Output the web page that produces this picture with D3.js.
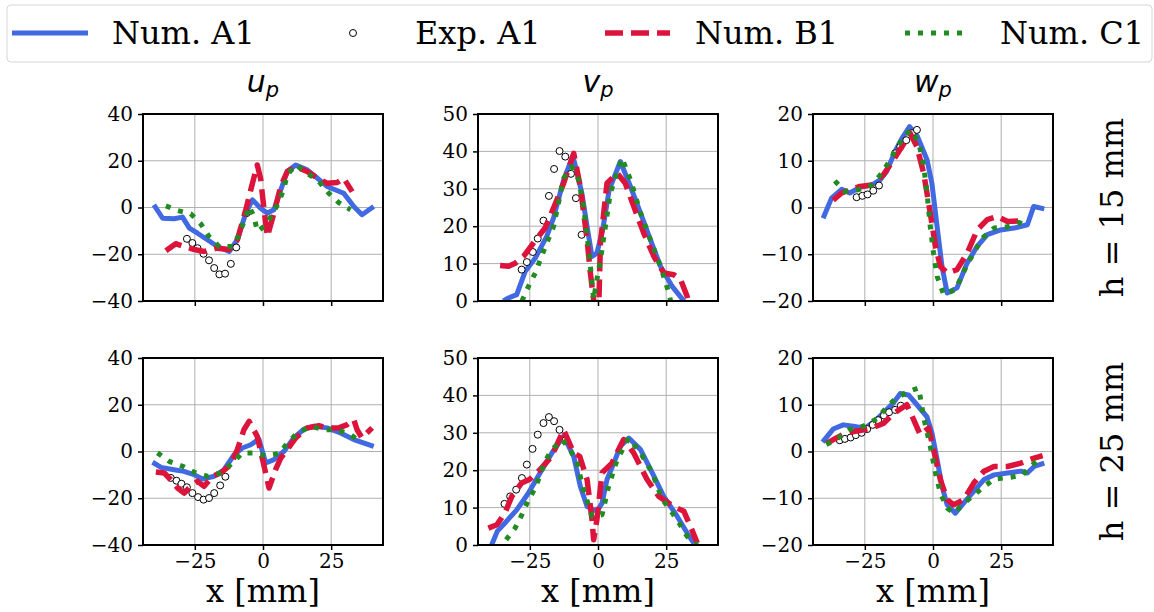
<!DOCTYPE html>
<meta charset="utf-8">
<style>
body { margin: 0; background: #fff; }
svg text { font-family: "DejaVu Serif", serif; fill: #000; }
.grid line { stroke: #b0b0b0; stroke-width: 1; }
.axis path, .axis line { stroke: #000; }
.axis path { display: none; }
.axis line { stroke-width: 1.5; }
.frame { fill: none; stroke: #000; stroke-width: 2; }
.title { font-family: "DejaVu Sans", sans-serif; font-style: italic; }
</style>
<body>
<div id="chart"></div>
<script src="https://d3js.org/d3.v7.min.js"></script>
<script>

// ---------- data ----------
var seriesNames = ["Num. A1", "Exp. A1", "Num. B1", "Num. C1"];
var columnTitles = ["u", "v", "w"];
var rowLabels = ["h = 15 mm", "h = 25 mm"];
var xTicks = [-25, 0, 25];
var yDomains = [[-40, 40], [0, 50], [-20, 20]];
var yTicks = [[-40, -20, 0, 20, 40], [0, 10, 20, 30, 40, 50], [-20, -10, 0, 10, 20]];

// h = 15 mm, u_p
var u15A1 = [[-40,1.1],[-36.8,-4.6],[-32.6,-4.8],[-29.5,-4.1],[-27,-8.8],[-24,-11],[-20.4,-13.8],[-16.7,-16.7],[-12.4,-18.8],[-9.4,-13.8],[-6.3,-2.4],[-3.9,3.3],[-0.9,-0.3],[1.6,-2.4],[4,-1],[6.5,7.5],[8.9,15.4],[12,18.2],[16.2,16.1],[20,12.5],[23.5,9],[29.6,6.1],[33.3,0.4],[36.3,-3.1],[40.6,0.4]];
var u15Exp = [[-27.9,-13.4],[-25.9,-15.2],[-24,-17.4],[-21.8,-19.8],[-19.8,-22.6],[-17.9,-25.9],[-16,-28.6],[-13.9,-28.3],[-11.8,-24.1],[-9.8,-17.1],[-6,-2.4]];
var u15B1 = [[-35.6,-18.5],[-32,-15.5],[-28.9,-16.7],[-25.2,-18],[-21.6,-18.8],[-16.7,-17.4],[-12.4,-18],[-9.4,-13.8],[-6.3,-1],[-4.5,7.5],[-2.1,18.2],[-0.9,12.5],[0.4,-1],[1.6,-12.4],[4,-2.4],[6.5,9],[8.9,15.4],[12,17.5],[16.2,15.4],[20,12.5],[23.5,10.4],[27.2,10.7],[29.6,12.5],[32.7,6.8]];
var u15C1 = [[-35.6,0.7],[-31.3,-1.3],[-26.5,-2.7],[-22.8,-7],[-19.8,-12.4],[-16.1,-16.7],[-11.2,-16.7],[-8.8,-11.7],[-7,-6],[-5.1,0.4],[-3.3,-3.8],[-2.1,-10.2],[0.4,-8.1],[3.4,-3.1],[5.9,2.6],[7.7,8.3],[8.9,14],[12,18.2],[16.2,14.7],[20.5,11.1],[24.1,6.1],[27.8,2.1],[32.1,-1]];

// h = 15 mm, v_p
var v15A1 = [[-34.7,0],[-32.8,0.8],[-29.8,1.7],[-26.7,7.9],[-23,11.5],[-18.8,17.3],[-16.3,22.2],[-12.6,32.4],[-9.2,38.8],[-5.9,28.8],[-4,19.9],[-2.2,11.9],[-0.4,12.8],[1.7,19],[4.1,29.7],[8.2,37.3],[11.9,30.6],[15.6,23.5],[19.2,16.4],[22.9,9.3],[27.2,3.9],[31.5,0]];
var v15Exp = [[-28,8.4],[-26.1,10.4],[-23.9,13.1],[-22.1,16.7],[-20,21.5],[-18,28.1],[-16.1,35.3],[-14.1,40.1],[-12,38.6],[-9.9,34],[-8.1,27.5],[-6,17.7]];
var v15B1 = [[-35.9,9.5],[-32.8,9.3],[-30.4,10.1],[-27.3,11.9],[-23.7,15.5],[-19.4,19.5],[-15.1,27],[-12.6,31.5],[-8.9,39.5],[-6.5,30.6],[-4,16.4],[-2.8,7.5],[-1.2,-2],[0.3,-1],[0.9,15.5],[3.3,31.5],[7,34.2],[10,31.5],[13.1,25.3],[16.8,18.1],[20.5,11.9],[24.1,7.5],[27.8,7],[30.3,5.7],[32.7,1.2],[33.5,-1]];
var v15C1 = [[-27.9,0],[-25.5,3.9],[-23,7.5],[-21.2,11],[-18.8,15.5],[-16.3,19.9],[-12.6,32.8],[-9.6,35.9],[-7.1,32.4],[-5.3,25.3],[-3.4,13.7],[-2.2,4.8],[-1.6,0.4],[-0.4,5.7],[0.9,11],[2.7,19.9],[4.5,28.8],[8.8,38.2],[11.9,32.4],[15.6,23.5],[19.2,16.4],[22.9,9.3],[26,2.1],[26.6,0]];

// h = 15 mm, w_p
var w15A1 = [[-40.3,-2.3],[-37.2,2],[-33.5,3.9],[-30.5,3.1],[-26.8,4.3],[-22.5,4.8],[-19.4,5.9],[-17,7.7],[-13.9,12],[-11.4,14.8],[-8.6,17.3],[-5.7,15.2],[-2.2,10.2],[-0.4,5.2],[1.5,-4.1],[3.3,-12.6],[5.2,-18.3],[8.8,-17.2],[12.5,-11.9],[16.2,-8.3],[19.9,-5.8],[24.8,-4.8],[29.7,-4.4],[34.6,-3.7],[36.9,0.2],[40.8,-0.3]];
var w15Exp = [[-28,2.2],[-25.9,2.5],[-24,2.8],[-21.9,3.6],[-19.8,4.7],[-13.9,11.6],[-12,13],[-9.8,14.4],[-7.7,15.9],[-5.9,16.6]];
var w15B1 = [[-36.6,1.6],[-33.5,3.1],[-29.9,3.9],[-26.8,4.5],[-22.5,4.8],[-18.2,7],[-14.5,10.2],[-11.4,13],[-8.4,15.9],[-5.9,13],[-3.4,7.3],[-1,-1.2],[0.9,-8.3],[2.7,-12.6],[5.2,-14],[8.8,-13.3],[12.5,-9.8],[16.2,-4.8],[19.9,-2.6],[23.6,-1.9],[27.3,-3],[33.4,-2.8]];
var w15C1 = [[-36,5.7],[-32.3,3.4],[-27.4,3.8],[-22.5,4.8],[-18.8,7.3],[-15.7,10.2],[-12.7,13.4],[-8.4,16.6],[-5.3,14.1],[-3.4,8.8],[-2.2,3.1],[-1,-4.1],[0.2,-9.8],[1.5,-14.7],[3.9,-18.6],[8.2,-17.6],[12.5,-12.2],[18.1,-6.5],[22.4,-4.4],[27.3,-4.1],[31.6,-3.2],[35.3,-4.1]];

// h = 25 mm, u_p
var u25A1 = [[-40.5,-4.6],[-37.4,-6.8],[-32.6,-7.8],[-29,-8.5],[-25.3,-9.9],[-22.2,-11.8],[-17.9,-10.6],[-14.3,-7.8],[-10.6,-1.4],[-7.6,1.5],[-4.5,2.9],[-1.5,5.3],[1,-4.9],[4,-3.5],[7.7,0.1],[11.3,5.8],[15,9.6],[18.7,10.8],[23.5,10.1],[28.4,7.9],[33.3,5.1],[40.6,2.2]];
var u25Exp = [[-33.8,-11.3],[-31.7,-12.5],[-29.9,-13.8],[-27.9,-15.3],[-25.9,-17.8],[-23.8,-19.5],[-21.8,-20.6],[-19.8,-19.9],[-17.9,-17.8],[-15.7,-14.5],[-13.8,-10.8]];
var u25B1 = [[-39.3,-8.8],[-36.2,-9.2],[-33.8,-12.1],[-31.3,-15.6],[-28.9,-17.8],[-26.5,-14.9],[-24,-12.8],[-21.6,-14.9],[-18.5,-10.6],[-15.5,-9.2],[-11.8,-5.6],[-9.4,0.8],[-7,9.3],[-5.1,12.9],[-2.1,6.5],[0.4,-6.3],[2.2,-15.6],[4.6,-7.8],[6.5,-2.8],[8.9,0.8],[12,5.8],[16.2,10.1],[20.5,11],[23.5,10.1],[27.8,10.1],[30.9,11.5],[33.3,13.6],[34.5,9.3],[36.3,5.8],[40,10.1]];
var u25C1 = [[-38.7,-0.6],[-34.4,-4.2],[-29.5,-6.3],[-25.2,-8.9],[-20.4,-10.6],[-15.5,-9.2],[-11.2,-4.9],[-7.6,-0.6],[-3.5,-0.6],[1,-1.8],[5.9,-0.9],[8.9,3.6],[12.6,7.9],[17.6,10.8],[22.4,9.3],[27.2,9.3],[32.1,7.2],[36.3,3.6]];

// h = 25 mm, v_p
var v25A1 = [[-39,0],[-36.9,3.7],[-34.1,5.9],[-29.8,9.4],[-25.5,13.9],[-21.2,19.3],[-16.9,24.6],[-12.6,29.1],[-8.9,23.7],[-6.5,15.7],[-4,10.3],[-0.4,9],[1.5,11.2],[3.3,17.5],[5.8,21.9],[8.2,26.4],[11.3,28.6],[15.6,25.5],[19.9,19.3],[24.1,13],[29,7.7],[32.7,3.2],[35.2,0.4]];
var v25Exp = [[-34.3,11],[-32.2,13],[-30,14.8],[-27.9,17.9],[-26.1,21.5],[-24,25.7],[-22.1,29.5],[-20,32.6],[-18,34.2],[-16.1,33.1],[-14.1,30.8],[-11.9,28]];
var v25B1 = [[-40.2,4.5],[-37.1,5.4],[-34.1,8.6],[-31.6,13],[-28,16.6],[-25,17.6],[-21.3,20.1],[-17,23.7],[-12.6,30.8],[-8.9,24.6],[-6.7,23.7],[-4,17.5],[-2.2,6.8],[-1.6,1.4],[-0.4,6.8],[1.5,19.3],[5.1,21.9],[9.4,28.2],[13.1,24.6],[18,17.5],[22.3,13],[27.8,10.3],[31.5,9],[33.9,5],[36.4,0.5]];
var v25C1 = [[-33.7,1.4],[-30.4,4.5],[-27.9,8.1],[-25.5,12.1],[-23,15.2],[-19.4,22.4],[-16.9,25.5],[-13.2,28.2],[-10.2,25.5],[-7.7,21.9],[-5.3,14.8],[-2.2,7.7],[1.5,8.1],[3.9,15.7],[7,22.8],[11.3,28.6],[15.6,24.6],[19.9,19.3],[23.5,12.3],[27.2,8.6],[29.7,5.9],[32.7,2.3],[36.4,0]];

// h = 25 mm, w_p
var w25A1 = [[-40.5,2],[-36.6,4.8],[-32.9,5.7],[-29.2,5.4],[-24.9,5],[-21.3,6.5],[-17.6,8.6],[-14.5,10.4],[-12,12.4],[-9,12.1],[-5.9,10],[-2.2,7.4],[-0.4,4],[1.5,-1.7],[3.3,-7.4],[5.2,-11.4],[8.2,-13.2],[11.3,-11],[15,-8.5],[18.7,-6],[22.4,-5],[27.3,-4.6],[32.2,-4.2],[34.6,-4.6],[37.1,-3.2],[40.8,-2.5]];
var w25Exp = [[-34.2,2.4],[-32.3,2.7],[-30.2,3],[-28.3,3.5],[-26.2,4],[-24.1,4.8],[-22.1,5.7],[-20.1,6.7],[-18,7.7],[-16.1,8.4],[-13.9,8.9],[-11.8,9.8]];
var w25B1 = [[-39.1,1.7],[-35.4,2.9],[-31.7,4],[-26.8,4.5],[-22.5,5],[-18.2,6],[-14.5,8.1],[-9.6,10],[-7.1,6.8],[-4.7,3.6],[-1.6,5],[0.2,0.4],[2.7,-6],[5.2,-10.3],[7.6,-11.4],[11.3,-10.3],[15,-6.7],[18.7,-4.2],[22.4,-3.2],[27.3,-3.2],[32.2,-2.5],[37.1,-1.4],[40.2,-0.9]];
var w25C1 = [[-39.1,1.5],[-34.8,2.9],[-30.5,4.7],[-25.6,5.4],[-20.6,7],[-17.2,9.3],[-13.9,11.2],[-9.6,12.7],[-5.3,13.6],[-4.7,11.8],[-3.4,7.2],[-1,1.1],[0.9,-4.6],[2.7,-8.9],[5.2,-12.1],[7.6,-13.2],[10.7,-11.4],[14.4,-9.6],[18.7,-7.5],[22.4,-5.9],[28.5,-5.5],[32.8,-5],[37.1,-2.5],[40.2,-1.2]];

var panels = [
  [ {A1: u15A1, Exp: u15Exp, B1: u15B1, C1: u15C1},
    {A1: v15A1, Exp: v15Exp, B1: v15B1, C1: v15C1},
    {A1: w15A1, Exp: w15Exp, B1: w15B1, C1: w15C1} ],
  [ {A1: u25A1, Exp: u25Exp, B1: u25B1, C1: u25C1},
    {A1: v25A1, Exp: v25Exp, B1: v25B1, C1: v25C1},
    {A1: w25A1, Exp: w25Exp, B1: w25B1, C1: w25C1} ]
];

// ---------- layout ----------
var W = 1154, H = 612;
var colLeft = [143, 478, 813],
    rowTop  = [114, 358],
    pw = 240, ph = 187;

var styles = {
  A1: {stroke: "#4169e1", width: 5, dash: null},
  B1: {stroke: "#dc143c", width: 5.5, dash: "18,8"},
  C1: {stroke: "#228b22", width: 5, dash: "5,8"}
};

var svg = d3.select("#chart").append("svg")
    .attr("width", W)
    .attr("height", H);

var x = d3.scaleLinear().domain([-44, 44]).range([0, pw]);

panels.forEach(function(row, r){
  row.forEach(function(p, c){
    var y = d3.scaleLinear().domain(yDomains[c]).range([ph, 0]);
    var g = svg.append("g")
        .attr("transform", "translate(" + colLeft[c] + "," + rowTop[r] + ")");

    var clipId = "clip" + r + c;
    g.append("clipPath").attr("id", clipId)
      .append("rect").attr("width", pw).attr("height", ph);

    // grid
    var grid = g.append("g").attr("class", "grid");
    grid.selectAll(".gx").data(xTicks).enter().append("line")
        .attr("x1", d => x(d)).attr("x2", d => x(d))
        .attr("y1", 0).attr("y2", ph);
    grid.selectAll(".gy").data(yTicks[c]).enter().append("line")
        .attr("x1", 0).attr("x2", pw)
        .attr("y1", d => y(d)).attr("y2", d => y(d));

    // lines, drawn in the order A1, Exp, B1, C1
    var line = d3.line().x(d => x(d[0])).y(d => y(d[1]));
    var lines = g.append("g").attr("clip-path", "url(#" + clipId + ")");
    function drawLine(k){
      lines.append("path")
          .datum(p[k])
          .attr("d", line)
          .attr("fill", "none")
          .attr("stroke", styles[k].stroke)
          .attr("stroke-width", styles[k].width)
          .attr("stroke-dasharray", styles[k].dash)
          .attr("stroke-linejoin", "round");
    }
    drawLine("A1");
    lines.append("g").selectAll("circle").data(p.Exp).enter().append("circle")
        .attr("cx", d => x(d[0])).attr("cy", d => y(d[1]))
        .attr("r", 3.5)
        .attr("fill", "#fff")
        .attr("stroke", "#000")
        .attr("stroke-width", 1);
    drawLine("B1");
    drawLine("C1");

    // axes
    var yAxis = g.append("g").attr("class", "axis")
        .call(d3.axisLeft(y).tickValues(yTicks[c]).tickSize(5).tickPadding(5));
    yAxis.selectAll("text").attr("font-size", 20);

    var xAxis = g.append("g").attr("class", "axis")
        .attr("transform", "translate(0," + ph + ")")
        .call(d3.axisBottom(x).tickValues(xTicks).tickSize(5).tickPadding(4));
    xAxis.selectAll("text").attr("font-size", 20);
    if (r == 0) xAxis.selectAll("text").remove();

    g.append("rect").attr("class", "frame")
        .attr("width", pw).attr("height", ph);

    if (r == 0) {
      var t = g.append("text").attr("class", "title")
          .attr("x", pw/2).attr("y", -22)
          .attr("text-anchor", "middle")
          .attr("font-size", 30);
      t.append("tspan").text(columnTitles[c]);
      t.append("tspan").attr("font-size", 21).attr("dy", 5).text("p");
    } else {
      g.append("text")
          .attr("x", pw/2).attr("y", ph + 57)
          .attr("text-anchor", "middle")
          .attr("font-size", 32)
          .text("x [mm]");
    }
  });

  svg.append("text")
      .attr("transform", "translate(1123," + (rowTop[r] + ph/2) + ") rotate(-90)")
      .attr("text-anchor", "middle")
      .attr("font-size", 32)
      .text(rowLabels[r]);
});

// ---------- legend ----------
var legend = svg.append("g").attr("class", "legend");
legend.append("rect")
    .attr("x", 7).attr("y", 5).attr("width", 1145).attr("height", 57)
    .attr("rx", 4)
    .attr("fill", "#fff").attr("fill-opacity", 0.8)
    .attr("stroke", "#d6d6d6").attr("stroke-width", 1);

var legendItems = [
  {name: seriesNames[0], key: "A1", x0: 12, x1: 88, tx: 112},
  {name: seriesNames[1], key: "Exp", x0: 353, x1: 353, tx: 415},
  {name: seriesNames[2], key: "B1", x0: 605, x1: 670, tx: 695},
  {name: seriesNames[3], key: "C1", x0: 905, x1: 970, tx: 1000}
];
var ly = 33;
legendItems.forEach(function(it){
  if (it.key == "Exp") {
    legend.append("circle").attr("cx", it.x0).attr("cy", ly).attr("r", 3.5)
        .attr("fill", "#fff").attr("stroke", "#000").attr("stroke-width", 1);
  } else {
    legend.append("line")
        .attr("x1", it.x0).attr("x2", it.x1).attr("y1", ly).attr("y2", ly)
        .attr("stroke", styles[it.key].stroke)
        .attr("stroke-width", styles[it.key].width)
        .attr("stroke-dasharray", styles[it.key].dash);
  }
  legend.append("text")
      .attr("x", it.tx).attr("y", ly + 11)
      .attr("font-size", 32)
      .text(it.name);
});

</script>
